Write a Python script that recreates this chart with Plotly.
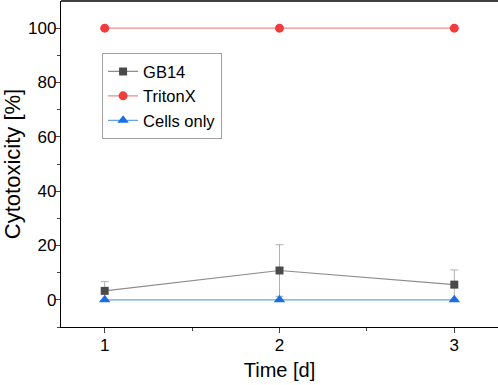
import plotly.graph_objects as go

days = [1, 2, 3]
gb14 = [3.3, 10.8, 5.6]
gb14_err = [3.4, 9.5, 5.4]
triton = [100, 100, 100]
cells = [0, 0, 0]

fig = go.Figure()
fig.add_trace(go.Scatter(
    x=days, y=gb14, name="GB14", mode="lines+markers",
    line=dict(color="#8c8c8c", width=1.2),
    marker=dict(symbol="square", size=8, color="#4a4a4a"),
    error_y=dict(type="data", array=gb14_err, visible=True, color="#b0b0b0", thickness=1, width=4),
))
fig.add_trace(go.Scatter(
    x=days, y=triton, name="TritonX", mode="lines+markers",
    line=dict(color="#f08a8a", width=1.2),
    marker=dict(symbol="circle", size=9, color="#f23c3c"),
))
fig.add_trace(go.Scatter(
    x=days, y=cells, name="Cells only", mode="lines+markers",
    line=dict(color="#66a3ee", width=1.2),
    marker=dict(symbol="triangle-up", size=10, color="#1a6fe0"),
))

font = "Liberation Sans, Arial, sans-serif"
fig.update_layout(
    width=498, height=385,
    margin=dict(l=61, r=0, t=1, b=58),
    plot_bgcolor="white", paper_bgcolor="white",
    font=dict(family=font, color="black", size=17),
    showlegend=True,
    legend=dict(x=0.094, y=0.84, xanchor="left", yanchor="top",
                bordercolor="#a0a0a0", borderwidth=1, bgcolor="white",
                font=dict(size=16.5), tracegroupgap=0, itemwidth=30),
    xaxis=dict(range=[0.75, 3.25], tickvals=[1, 2, 3], showline=True, linecolor="black",
               linewidth=1.3, ticks="outside", ticklen=5, tickwidth=1.3, showgrid=False,
               zeroline=False, automargin=False, ticklabelstandoff=-3,
               title=dict(text="Time [d]", font=dict(size=20), standoff=9),
               minor=dict(tickvals=[1.5, 2.5], ticks="outside", ticklen=3, tickwidth=1.2, showgrid=False)),
    yaxis=dict(range=[-10, 110], tick0=0, dtick=20, showline=True, linecolor="black",
               linewidth=1.3, ticks="outside", ticklen=5, tickwidth=1.3, showgrid=False,
               zeroline=False, automargin=False, ticklabelstandoff=-5,
               title=dict(text="Cytotoxicity [%]", font=dict(size=22), standoff=2),
               minor=dict(tickvals=[-10, 10, 30, 50, 70, 90], ticks="outside", ticklen=3, tickwidth=1.2, showgrid=False)),
    shapes=[dict(type="line", xref="paper", yref="paper", x0=0, x1=1, y0=1, y1=1,
                 line=dict(color="black", width=1.5))],
)

fig.write_html("out.html", config={"displayModeBar": False},
               post_script="document.body.style.margin='0';document.body.style.overflow='hidden';")
